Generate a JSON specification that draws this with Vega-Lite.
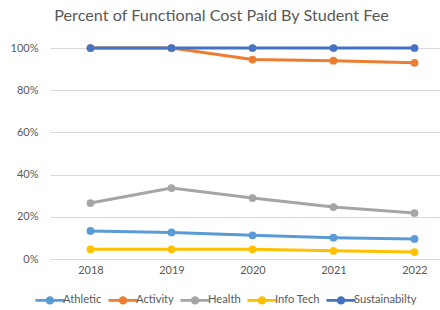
{
  "$schema": "https://vega.github.io/schema/vega-lite/v6.json",
  "width": 405,
  "height": 211,
  "autosize": {"type": "none"},
  "padding": {"left": 50, "top": 48, "right": 0, "bottom": 51},
  "background": "white",
  "title": {
    "text": "Percent of Functional Cost Paid By Student Fee",
    "font": "Lato",
    "fontSize": 16.2,
    "fontWeight": "normal",
    "color": "#595959",
    "offset": 18,
    "dx": -31
  },
  "config": {
    "view": {"stroke": null},
    "font": "Lato"
  },
  "data": {
    "values": [
      {"Year": "2018", "Series": "Athletic", "Pct": 0.133},
      {"Year": "2019", "Series": "Athletic", "Pct": 0.126},
      {"Year": "2020", "Series": "Athletic", "Pct": 0.112},
      {"Year": "2021", "Series": "Athletic", "Pct": 0.101},
      {"Year": "2022", "Series": "Athletic", "Pct": 0.095},
      {"Year": "2018", "Series": "Activity", "Pct": 1.0},
      {"Year": "2019", "Series": "Activity", "Pct": 1.0},
      {"Year": "2020", "Series": "Activity", "Pct": 0.945},
      {"Year": "2021", "Series": "Activity", "Pct": 0.94},
      {"Year": "2022", "Series": "Activity", "Pct": 0.93},
      {"Year": "2018", "Series": "Health", "Pct": 0.265},
      {"Year": "2019", "Series": "Health", "Pct": 0.336},
      {"Year": "2020", "Series": "Health", "Pct": 0.289},
      {"Year": "2021", "Series": "Health", "Pct": 0.246},
      {"Year": "2022", "Series": "Health", "Pct": 0.218},
      {"Year": "2018", "Series": "Info Tech", "Pct": 0.046},
      {"Year": "2019", "Series": "Info Tech", "Pct": 0.046},
      {"Year": "2020", "Series": "Info Tech", "Pct": 0.046},
      {"Year": "2021", "Series": "Info Tech", "Pct": 0.039},
      {"Year": "2022", "Series": "Info Tech", "Pct": 0.033},
      {"Year": "2018", "Series": "Sustainabilty", "Pct": 1.0},
      {"Year": "2019", "Series": "Sustainabilty", "Pct": 1.0},
      {"Year": "2020", "Series": "Sustainabilty", "Pct": 1.0},
      {"Year": "2021", "Series": "Sustainabilty", "Pct": 1.0},
      {"Year": "2022", "Series": "Sustainabilty", "Pct": 1.0}
    ]
  },
  "encoding": {
    "x": {
      "field": "Year",
      "type": "ordinal",
      "scale": {"type": "point", "padding": 0.5},
      "axis": {
        "title": null,
        "labelAngle": 0,
        "labelColor": "#595959",
        "labelFontSize": 11,
        "labelPadding": 5,
        "ticks": false,
        "domain": false,
        "grid": false
      }
    },
    "y": {
      "field": "Pct",
      "type": "quantitative",
      "scale": {"domain": [0, 1], "nice": false},
      "axis": {
        "title": null,
        "format": ".0%",
        "values": [0, 0.2, 0.4, 0.6, 0.8, 1.0],
        "labelColor": "#595959",
        "labelFontSize": 11,
        "labelPadding": 12,
        "ticks": false,
        "domain": false,
        "gridColor": "#D9D9D9",
        "gridWidth": 1
      }
    },
    "color": {
      "field": "Series",
      "type": "nominal",
      "sort": ["Athletic", "Activity", "Health", "Info Tech", "Sustainabilty"],
      "scale": {
        "domain": ["Athletic", "Activity", "Health", "Info Tech", "Sustainabilty"],
        "range": ["#5B9BD5", "#ED7D31", "#A5A5A5", "#FFC000", "#4472C4"]
      },
      "legend": {
        "title": null,
        "orient": "none",
        "legendX": -10,
        "legendY": 242,
        "direction": "horizontal",
        "labelColor": "#595959",
        "labelFontSize": 11.2,
        "labelOffset": 3,
        "columnPadding": 6,
        "symbolType": "M-1.45,-0.14H1.45V0.14H-1.45Z M-0.42,0A0.42,0.42 0 1,1 0.42,0A0.42,0.42 0 1,1 -0.42,0Z",
        "symbolSize": 400,
        "symbolStrokeWidth": 0,
        "symbolOpacity": 1
      }
    }
  },
  "mark": {
    "type": "line",
    "strokeWidth": 3,
    "point": {"size": 60, "filled": true, "opacity": 1}
  }
}
